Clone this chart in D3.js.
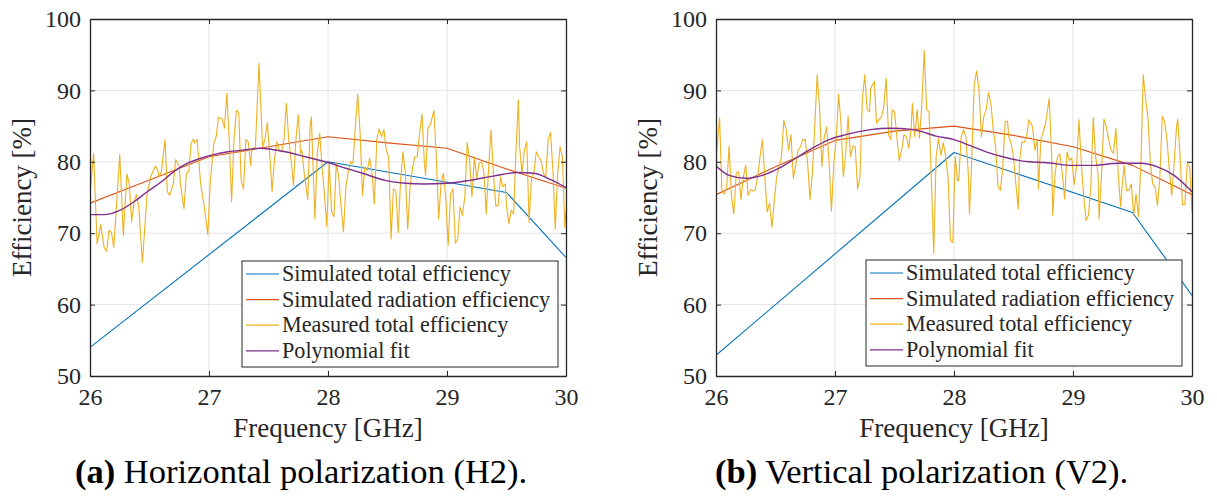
<!DOCTYPE html>
<html>
<head>
<meta charset="utf-8">
<script src="https://cdn.jsdelivr.net/npm/d3@7"></script>
<style>
  body { margin: 0; background: #fff; }
</style>
</head>
<body>
<svg id="chart" width="1217" height="497" font-family="Liberation Serif"></svg>
<script>
/*--------------- DATA -------------*/

const freqTicks = [26, 27, 28, 29, 30];
const effTicks = [50, 60, 70, 80, 90, 100];
const seriesNames = ["Simulated total efficiency", "Simulated radiation efficiency",
                     "Measured total efficiency", "Polynomial fit"];
const seriesColors = ["#0072BD", "#D95319", "#EDB120", "#7E2F8E"];
const captionTags = ["(a)", "(b)"];
const captionTexts = [" Horizontal polarization (H2).", " Vertical polarization (V2)."];

// [frequency GHz, efficiency %]
const simTotalA = [[26, 54.0], [28, 80.0], [29.5, 75.7], [30, 66.6]];
const simRadA = [[26, 74.2], [26.5, 77.45], [27, 80.7], [27.5, 82.1], [28, 83.5],
                 [28.5, 82.65], [29, 81.9], [29.5, 79.0], [30, 76.3]];
const fitA = [[26, 72.6], [26.12, 72.6], [26.25, 73.2], [26.37, 74.4], [26.48, 75.8], [26.6, 77.2],
              [26.71, 78.7], [26.82, 79.8], [26.93, 80.5], [27.04, 81.0], [27.16, 81.4], [27.31, 81.7],
              [27.43, 81.9], [27.64, 81.4], [27.81, 80.7], [28.0, 79.9], [28.15, 79.1], [28.29, 78.4],
              [28.48, 77.4], [28.65, 77.0], [28.8, 76.9], [29.0, 77.0], [29.19, 77.4], [29.39, 78.0],
              [29.59, 78.5], [29.73, 78.4], [29.87, 77.5], [30.0, 76.4]];
const measA = [
  [26.00,75.5],[26.03,81.2],[26.06,68.5],[26.09,71.2],[26.11,69.0],[26.12,67.9],[26.14,67.5],[26.16,70.4],
  [26.18,70.1],[26.20,68.0],[26.25,81.0],[26.28,69.7],[26.31,78.3],[26.33,76.9],[26.35,71.6],[26.37,74.4],
  [26.39,75.4],[26.41,73.7],[26.44,65.9],[26.48,75.5],[26.51,77.9],[26.55,79.4],[26.57,78.8],[26.58,77.9],
  [26.60,78.6],[26.63,83.1],[26.65,75.8],[26.67,75.3],[26.70,76.9],[26.72,80.3],[26.75,79.4],[26.76,76.9],
  [26.79,73.4],[26.81,78.4],[26.83,78.6],[26.85,82.6],[26.87,83.2],[26.88,82.6],[26.90,83.1],[26.93,76.9],
  [26.96,73.7],[26.99,69.8],[27.01,76.9],[27.04,82.6],[27.06,83.5],[27.08,86.2],[27.11,86.0],[27.13,84.7],
  [27.15,89.6],[27.17,83.1],[27.19,74.4],[27.21,83.1],[27.23,87.2],[27.25,86.9],[27.27,77.4],[27.29,76.2],
  [27.31,83.1],[27.33,82.8],[27.35,79.5],[27.36,81.6],[27.39,82.1],[27.42,93.8],[27.45,82.1],[27.47,83.1],
  [27.49,85.5],[27.51,81.2],[27.53,75.8],[27.55,80.2],[27.57,82.8],[27.59,81.6],[27.61,81.4],[27.63,83.1],
  [27.65,88.2],[27.67,83.1],[27.69,80.2],[27.71,76.7],[27.73,83.1],[27.75,86.6],[27.77,81.2],[27.78,81.6],
  [27.80,78.4],[27.83,74.7],[27.85,84.9],[27.86,86.3],[27.89,72.0],[27.91,81.2],[27.93,84.0],[27.95,79.3],
  [27.97,75.5],[27.99,70.9],[28.01,80.0],[28.03,73.0],[28.05,72.3],[28.07,79.8],[28.09,77.9],[28.11,73.7],
  [28.13,70.2],[28.15,76.5],[28.17,78.6],[28.19,80.0],[28.21,79.8],[28.23,84.9],[28.25,89.5],[28.27,84.0],
  [28.29,75.3],[28.31,79.3],[28.33,78.8],[28.35,80.5],[28.37,78.4],[28.39,74.1],[28.41,83.1],[28.43,84.6],
  [28.45,83.5],[28.47,84.5],[28.49,81.6],[28.51,80.7],[28.53,69.2],[28.55,76.2],[28.57,76.0],[28.59,70.1],
  [28.61,77.4],[28.63,81.4],[28.65,78.4],[28.67,70.6],[28.69,76.5],[28.71,79.1],[28.73,80.7],[28.75,80.7],
  [28.77,84.0],[28.79,86.7],[28.81,79.8],[28.82,78.1],[28.84,84.7],[28.86,85.2],[28.89,87.2],[28.91,80.7],
  [28.93,72.0],[28.95,76.9],[28.97,78.4],[28.99,74.8],[29.01,68.3],[29.03,75.5],[29.05,76.2],[29.07,68.6],
  [29.09,69.2],[29.11,73.7],[29.13,72.5],[29.15,75.1],[29.17,82.7],[29.19,80.2],[29.21,75.1],[29.23,80.7],
  [29.25,77.7],[29.27,79.8],[29.29,80.0],[29.31,78.6],[29.33,72.7],[29.35,79.3],[29.37,84.5],[29.39,78.4],
  [29.41,73.8],[29.43,73.9],[29.45,77.9],[29.47,76.5],[29.49,76.9],[29.50,73.9],[29.52,71.3],[29.54,73.2],
  [29.56,72.7],[29.58,81.6],[29.60,88.7],[29.61,82.1],[29.63,78.4],[29.65,81.6],[29.67,82.8],[29.69,71.5],
  [29.71,77.7],[29.73,78.4],[29.75,81.4],[29.77,80.7],[29.79,80.2],[29.81,78.4],[29.83,77.9],[29.85,83.1],
  [29.87,84.1],[29.89,78.8],[29.91,70.6],[29.93,78.4],[29.95,82.1],[29.97,80.7],[29.99,70.8],[30.00,73.2]];

const simTotalB = [[26, 52.9], [28, 81.3], [29.5, 72.9], [30, 61.3]];
const simRadB = [[26, 75.4], [26.5, 79.3], [27, 83.0], [27.5, 84.3], [28, 85.0],
                 [28.5, 83.7], [29, 82.1], [29.5, 79.5], [30, 75.4]];
const fitB = [[26, 79.4], [26.11, 78.1], [26.25, 77.7], [26.39, 78.1], [26.53, 79.1], [26.67, 80.5],
              [26.81, 81.9], [26.95, 83.1], [27.09, 83.8], [27.3, 84.5], [27.46, 84.7], [27.66, 84.5],
              [27.85, 83.6], [28.0, 83.1], [28.13, 82.3], [28.27, 81.4], [28.41, 80.7], [28.63, 80.0],
              [28.76, 79.9], [29.0, 79.5], [29.18, 79.5], [29.38, 79.8], [29.57, 79.8], [29.71, 79.3],
              [29.85, 78.1], [30, 75.8]];
const measB = [
  [26.00,80.2],[26.03,86.2],[26.05,75.8],[26.07,75.5],[26.09,76.5],[26.11,82.2],[26.13,75.1],[26.15,72.7],
  [26.17,78.4],[26.19,78.6],[26.21,74.7],[26.23,77.9],[26.25,79.5],[26.27,75.3],[26.29,76.1],[26.31,75.9],
  [26.33,76.1],[26.35,77.9],[26.37,80.7],[26.39,83.1],[26.41,77.9],[26.43,73.0],[26.45,74.2],[26.47,70.8],
  [26.49,74.6],[26.51,77.9],[26.53,79.3],[26.55,80.7],[26.57,85.8],[26.59,84.5],[26.61,81.6],[26.63,83.8],
  [26.65,77.7],[26.67,79.5],[26.69,81.6],[26.71,82.1],[26.73,83.1],[26.75,83.1],[26.77,79.8],[26.79,74.7],
  [26.81,78.4],[26.83,84.9],[26.85,92.2],[26.87,87.7],[26.89,79.3],[26.91,83.5],[26.93,84.9],[26.95,80.0],
  [26.97,73.1],[26.99,79.8],[27.01,83.1],[27.03,89.5],[27.05,85.4],[27.07,77.9],[27.09,81.2],[27.11,86.4],
  [27.13,80.7],[27.15,82.2],[27.17,82.1],[27.19,76.2],[27.21,77.9],[27.23,88.7],[27.25,92.2],[27.27,87.3],
  [27.29,87.0],[27.30,90.3],[27.31,90.6],[27.33,91.3],[27.35,85.4],[27.37,85.9],[27.39,86.3],[27.41,87.7],
  [27.43,91.7],[27.45,83.8],[27.47,83.1],[27.48,87.3],[27.50,87.0],[27.52,83.5],[27.54,80.2],[27.56,81.6],
  [27.58,83.8],[27.60,83.5],[27.62,81.9],[27.64,84.7],[27.65,88.2],[27.67,83.5],[27.69,87.3],[27.71,83.3],
  [27.73,88.2],[27.75,95.6],[27.77,87.3],[27.79,87.0],[27.81,77.4],[27.83,67.2],[27.85,80.7],[27.87,83.3],
  [27.89,80.9],[27.91,82.7],[27.93,80.7],[27.95,77.9],[27.97,69.0],[27.99,68.7],[28.01,80.7],[28.03,77.4],
  [28.04,77.4],[28.06,83.5],[28.08,84.5],[28.10,83.5],[28.12,78.4],[28.13,72.7],[28.15,80.7],[28.17,90.8],
  [28.19,92.7],[28.21,90.1],[28.23,83.5],[28.25,86.3],[28.27,87.3],[28.29,89.7],[28.31,88.2],[28.33,84.5],
  [28.35,82.1],[28.37,76.5],[28.39,76.0],[28.41,79.3],[28.43,85.6],[28.45,85.7],[28.46,83.5],[28.48,82.6],
  [28.50,80.7],[28.52,76.9],[28.54,73.4],[28.55,79.8],[28.57,82.8],[28.59,82.7],[28.61,83.5],[28.63,85.9],
  [28.66,84.9],[28.68,81.6],[28.70,83.1],[28.71,76.2],[28.73,83.1],[28.75,84.2],[28.77,85.4],[28.80,88.9],
  [28.82,81.2],[28.83,72.5],[28.85,78.4],[28.87,80.7],[28.89,81.1],[28.91,78.4],[28.93,74.8],[28.95,81.4],
  [28.97,80.2],[28.99,80.5],[29.01,76.8],[29.03,79.3],[29.05,85.9],[29.07,79.8],[29.09,75.1],[29.11,71.8],
  [29.13,72.5],[29.15,76.5],[29.17,86.2],[29.19,80.7],[29.21,78.4],[29.22,72.0],[29.24,78.4],[29.26,86.0],
  [29.28,84.9],[29.30,83.1],[29.32,81.6],[29.34,81.2],[29.36,84.7],[29.38,78.4],[29.40,73.7],[29.41,76.0],
  [29.43,79.5],[29.45,76.0],[29.47,76.0],[29.49,76.9],[29.51,72.5],[29.53,75.5],[29.55,72.3],[29.57,79.3],
  [29.59,92.2],[29.61,88.9],[29.63,86.1],[29.65,79.8],[29.67,76.9],[29.69,76.5],[29.71,73.9],[29.73,77.9],
  [29.75,86.4],[29.77,85.6],[29.79,83.1],[29.81,78.8],[29.83,75.3],[29.85,79.8],[29.87,84.9],[29.88,86.0],
  [29.90,80.7],[29.92,74.0],[29.94,74.0],[29.96,79.8],[29.98,79.3],[30.00,73.0]];

/*--------------- LAYOUT -------------*/

const FONT = "Liberation Serif";
const PLOT = {TOP: 19, WIDTH: 476, HEIGHT: 357};
const PANELS = [
  {left: 90, series: [simTotalA, simRadA, measA, fitA], legend: {x: 242, y: 261}, caption: 75},
  {left: 716, series: [simTotalB, simRadB, measB, fitB], legend: {x: 866, y: 260}, caption: 715}
];
const LEGEND = {W: 316, H: 106, ROW: 25.6};

const svg = d3.select("#chart");

const x = d3.scaleLinear().domain([26, 30]).range([0, PLOT.WIDTH]);
const y = d3.scaleLinear().domain([50, 100]).range([PLOT.HEIGHT, 0]);

const line = d3.line().x(d => x(d[0])).y(d => y(d[1]));
const smooth = d3.line().x(d => x(d[0])).y(d => y(d[1])).curve(d3.curveMonotoneX);

PANELS.forEach((p, i) => {
  const graph = svg.append("g")
      .attr("transform", `translate(${p.left}, ${PLOT.TOP})`);

  graph.append("defs").append("clipPath")
      .attr("id", "clip" + i)
    .append("rect")
      .attr("width", PLOT.WIDTH)
      .attr("height", PLOT.HEIGHT);

  //grid
  graph.append("g").selectAll("line")
    .data(freqTicks.slice(1, -1)).join("line")
      .attr("x1", d => x(d)).attr("x2", d => x(d))
      .attr("y1", 0).attr("y2", PLOT.HEIGHT)
      .attr("stroke", "#e4e4e4");
  graph.append("g").selectAll("line")
    .data(effTicks.slice(1, -1)).join("line")
      .attr("y1", d => y(d)).attr("y2", d => y(d))
      .attr("x1", 0).attr("x2", PLOT.WIDTH)
      .attr("stroke", "#e4e4e4");

  //series
  const plot = graph.append("g").attr("clip-path", `url(#clip${i})`);
  p.series.forEach((s, k) => {
    plot.append("path")
        .attr("d", k === 3 ? smooth(s) : line(s))
        .attr("fill", "none")
        .attr("stroke", seriesColors[k])
        .attr("stroke-width", k === 3 ? 1.4 : 1.1)
        .attr("stroke-linejoin", "round");
  });

  //axes with inward ticks
  const xAxis = graph.append("g")
      .attr("transform", `translate(0, ${PLOT.HEIGHT})`)
      .call(d3.axisBottom(x).tickValues(freqTicks).tickFormat(d3.format("d"))
              .tickSizeInner(-5).tickSizeOuter(0).tickPadding(12));
  const yAxis = graph.append("g")
      .call(d3.axisLeft(y).tickValues(effTicks).tickFormat(d3.format("d"))
              .tickSizeInner(-5).tickSizeOuter(0).tickPadding(9));
  const xTop = graph.append("g")
      .call(d3.axisTop(x).tickValues(freqTicks).tickSizeInner(-5).tickSizeOuter(0).tickFormat(""));
  const yRight = graph.append("g")
      .attr("transform", `translate(${PLOT.WIDTH}, 0)`)
      .call(d3.axisRight(y).tickValues(effTicks).tickSizeInner(-5).tickSizeOuter(0).tickFormat(""));

  [xAxis, yAxis, xTop, yRight].forEach(a => {
    a.attr("font-family", FONT);
    a.selectAll("path, line").attr("stroke", "#262626");
    a.select(".domain").attr("stroke-width", 1.3);
    a.selectAll("text").attr("font-size", 24).attr("fill", "#262626")
        .style("font-family", FONT);
  });
  xAxis.selectAll("text").attr("dy", "0.71em");

  //axis labels
  graph.append("text")
      .attr("x", PLOT.WIDTH / 2).attr("y", 418)
      .attr("text-anchor", "middle")
      .attr("font-size", 27)
      .attr("fill", "#262626")
      .style("font-family", FONT)
      .text("Frequency [GHz]");
  graph.append("text")
      .attr("transform", `translate(-59, ${PLOT.HEIGHT / 2}) rotate(-90)`)
      .attr("text-anchor", "middle")
      .attr("font-size", 27)
      .attr("fill", "#262626")
      .style("font-family", FONT)
      .text("Efficiency [%]");

  //legend
  const leg = svg.append("g")
      .attr("transform", `translate(${p.legend.x}, ${p.legend.y})`);
  leg.append("rect")
      .attr("width", LEGEND.W).attr("height", LEGEND.H)
      .attr("fill", "#fff").attr("stroke", "#262626").attr("stroke-width", 1);
  seriesNames.forEach((name, k) => {
    const cy = 13 + LEGEND.ROW * k;
    leg.append("line")
        .attr("x1", 4).attr("x2", 37).attr("y1", cy).attr("y2", cy)
        .attr("stroke", seriesColors[k]).attr("stroke-width", 1.2);
    leg.append("text")
        .attr("x", 40).attr("y", cy + 7)
        .attr("font-size", 22.2)
        .attr("fill", "#262626")
        .style("font-family", FONT)
        .text(name);
  });

  //caption
  const cap = svg.append("text")
      .attr("x", p.caption).attr("y", 483)
      .attr("font-size", 34.5)
      .attr("fill", "#000")
      .style("font-family", FONT);
  cap.append("tspan").attr("font-weight", "bold").text(captionTags[i]);
  cap.append("tspan").text(captionTexts[i]);
});
</script>
</body>
</html>
